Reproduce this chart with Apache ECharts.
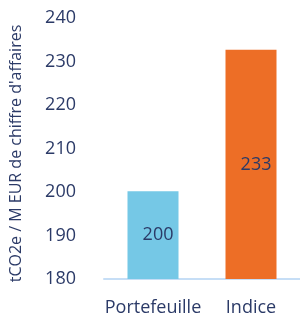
<!DOCTYPE html>
<html><head><meta charset="utf-8">
<script src="https://cdn.jsdelivr.net/npm/echarts@6/dist/echarts.min.js"></script>
<style>html,body{margin:0;padding:0;background:#fff}#c{width:300px;height:317px}</style>
</head><body><div id="c"></div>
<script>
const categories = ['Portefeuille', 'Indice'];
const values = [200.2, 232.7];
const valueLabels = ['200', '233'];
const barColors = ['#75c8e6', '#ed6e26'];
const yAxisName = "tCO2e / M EUR de chiffre d'affaires";
const yMin = 180, yMax = 240, yStep = 10;

const chart = echarts.init(document.getElementById('c'), null, {renderer: 'canvas'});
chart.setOption({
  animation: false,
  textStyle: {fontFamily: 'Open Sans'},
  grid: {left: 100, right: 0, top: 18, bottom: 35},
  xAxis: {
    type: 'category', data: categories,
    axisLine: {lineStyle: {color: '#c6def6', width: 2}},
    axisTick: {show: false},
    axisLabel: {color: '#2b3a67', fontSize: 18, fontFamily: 'Open Sans', margin: 20, interval: 0, hideOverlap: false}
  },
  yAxis: {
    type: 'value', min: yMin, max: yMax, interval: yStep,
    splitLine: {show: false},
    axisLine: {show: false}, axisTick: {show: false},
    axisLabel: {color: '#2b3a67', fontSize: 18, fontFamily: 'Open Sans', margin: 28},
    name: yAxisName, nameLocation: 'middle', nameGap: 80,
    nameTextStyle: {color: '#2b3a67', fontSize: 16, fontFamily: 'Open Sans', padding: [0, 10, 0, 0]}
  },
  series: [{
    type: 'bar', barWidth: 51,
    data: values.map((v, i) => ({value: v, itemStyle: {color: barColors[i]}})),
    label: {
      show: true, position: 'insideRight', distance: 5,
      color: '#2b3a67', fontSize: 18, fontFamily: 'Open Sans',
      formatter: p => valueLabels[p.dataIndex]
    }
  }]
});
</script></body></html>
